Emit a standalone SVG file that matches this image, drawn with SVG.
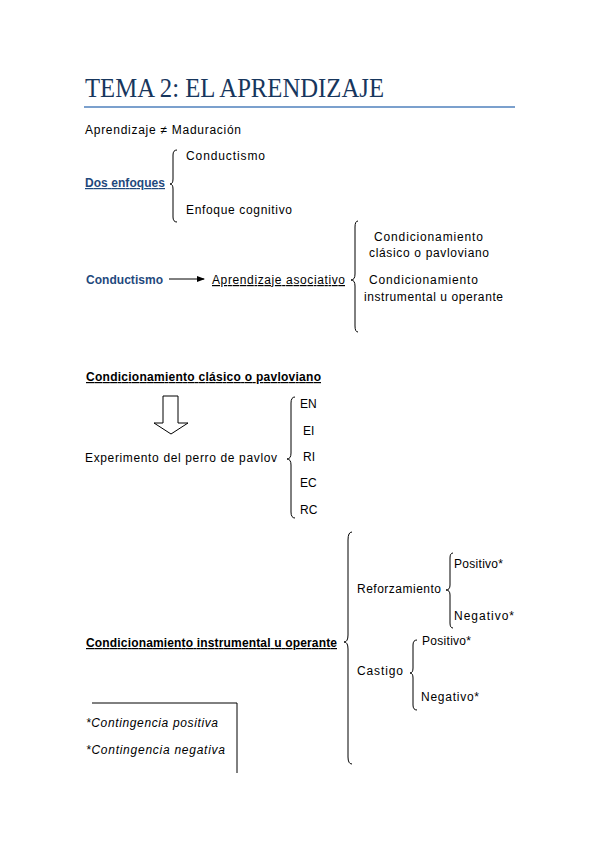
<svg xmlns="http://www.w3.org/2000/svg" width="599" height="848" viewBox="0 0 599 848">
<style>
  .t { font-family: "Liberation Sans", Arial, sans-serif; font-size: 12px; fill: #000; }
  .b { font-weight: bold; }
  .blue { fill: #1F497D; }
  .u { text-decoration: underline; }
  .i { font-style: italic; }
  .title { font-family: "Liberation Serif", "Times New Roman", serif; font-size: 27px; fill: #17365D; }
  .brace { fill: none; stroke: #000; stroke-width: 1; }
  .ln { stroke: #000; stroke-width: 1; fill: none; }
</style>
<defs>
  <marker id="ah" markerWidth="8" markerHeight="8" refX="7" refY="4" orient="auto" markerUnits="userSpaceOnUse">
    <path d="M0,1 L8,4 L0,7 Z" fill="#000"/>
  </marker>
</defs>
<rect width="599" height="848" fill="#fff"/>

<g id="title">
  <text class="title" x="85" y="97" textLength="299" lengthAdjust="spacingAndGlyphs">TEMA 2: EL APRENDIZAJE</text>
  <line x1="84" y1="107" x2="515" y2="107" stroke="#4F81BD" stroke-width="1.5"/>
</g>

<g id="aprendizaje-maduracion">
  <text class="t" x="85" y="134" textLength="156">Aprendizaje ≠ Maduración</text>
</g>

<g id="dos-enfoques">
  <text class="t b blue u" x="85" y="187" textLength="80">Dos enfoques</text>
</g>
<g id="enf-conductismo">
  <text class="t" x="186" y="160" textLength="79">Conductismo</text>
</g>
<g id="enf-cognitivo">
  <text class="t" x="186" y="214" textLength="106">Enfoque cognitivo</text>
</g>

<g id="conductismo">
  <text class="t b blue" x="86" y="284" textLength="77">Conductismo</text>
</g>
<g id="aprendizaje-asociativo">
  <text class="t u" x="212" y="284" textLength="133">Aprendizaje asociativo</text>
</g>
<g id="cond-clasico">
  <text class="t" x="374" y="241" textLength="109">Condicionamiento</text>
  <text class="t" x="369" y="257" textLength="120">clásico o pavloviano</text>
</g>
<g id="cond-instrumental">
  <text class="t" x="369" y="284" textLength="109">Condicionamiento</text>
  <text class="t" x="364" y="301" textLength="139">instrumental u operante</text>
</g>

<g id="heading-clasico">
  <text class="t b u" x="86" y="381" textLength="235">Condicionamiento clásico o pavloviano</text>
</g>
<g id="experimento">
  <text class="t" x="85" y="462" textLength="192">Experimento del perro de pavlov</text>
</g>
<g id="en"><text class="t" x="300" y="408">EN</text></g>
<g id="ei"><text class="t" x="303" y="435">EI</text></g>
<g id="ri"><text class="t" x="303" y="461">RI</text></g>
<g id="ec"><text class="t" x="300" y="487">EC</text></g>
<g id="rc"><text class="t" x="300" y="514">RC</text></g>

<g id="heading-instrumental">
  <text class="t b u" x="86" y="647" textLength="251">Condicionamiento instrumental u operante</text>
</g>
<g id="reforzamiento">
  <text class="t" x="357" y="593" textLength="84">Reforzamiento</text>
</g>
<g id="ref-positivo"><text class="t" x="454" y="568" textLength="49">Positivo*</text></g>
<g id="ref-negativo"><text class="t" x="454" y="620" textLength="60">Negativo*</text></g>
<g id="castigo">
  <text class="t" x="357" y="675" textLength="46">Castigo</text>
</g>
<g id="cas-positivo"><text class="t" x="422" y="645" textLength="49">Positivo*</text></g>
<g id="cas-negativo"><text class="t" x="421" y="701" textLength="58">Negativo*</text></g>

<g id="footnote">
  <path class="ln" d="M92,703 H237 V773"/>
  <text class="t i" x="86" y="727" textLength="132">*Contingencia positiva</text>
  <text class="t i" x="86" y="754" textLength="139">*Contingencia negativa</text>
</g>

<g id="connectors">
  <!-- brace: Dos enfoques -->
  <path class="brace" d="M177,150 Q173,150 173,155 L173,179 Q173,184 170,184 Q173,184 173,189 L173,217 Q173,222 177,222"/>
  <!-- brace: Aprendizaje asociativo -->
  <path class="brace" d="M358,221 Q355,221 355,227 L355,274 Q355,280 351,280 Q355,280 355,286 L355,326 Q355,332 358,332"/>
  <!-- arrow Conductismo -> Aprendizaje asociativo -->
  <line class="ln" x1="169" y1="279" x2="204" y2="279" marker-end="url(#ah)"/>
  <!-- block down arrow -->
  <path class="ln" d="M163,396 H178 V423 H188 L171,434 L154,423 H163 Z" fill="#fff"/>
  <!-- brace: EN..RC -->
  <path class="brace" d="M295,397 Q291,397 291,403 L291,453 Q291,459 287,459 Q291,459 291,465 L291,512 Q291,518 295,518"/>
  <!-- big brace: instrumental -->
  <path class="brace" d="M352,532 Q348,532 348,540 L348,635 Q348,642 344,642 Q348,642 348,649 L348,757 Q348,764 352,764"/>
  <!-- brace: Reforzamiento -->
  <path class="brace" d="M453,553 Q450,553 450,558 L450,585 Q450,590 446,590 Q450,590 450,595 L450,623 Q450,628 453,628"/>
  <!-- brace: Castigo -->
  <path class="brace" d="M417,640 Q413,640 413,645 L413,668 Q413,673 410,673 Q413,673 413,678 L413,705 Q413,710 417,710"/>
</g>
</svg>
